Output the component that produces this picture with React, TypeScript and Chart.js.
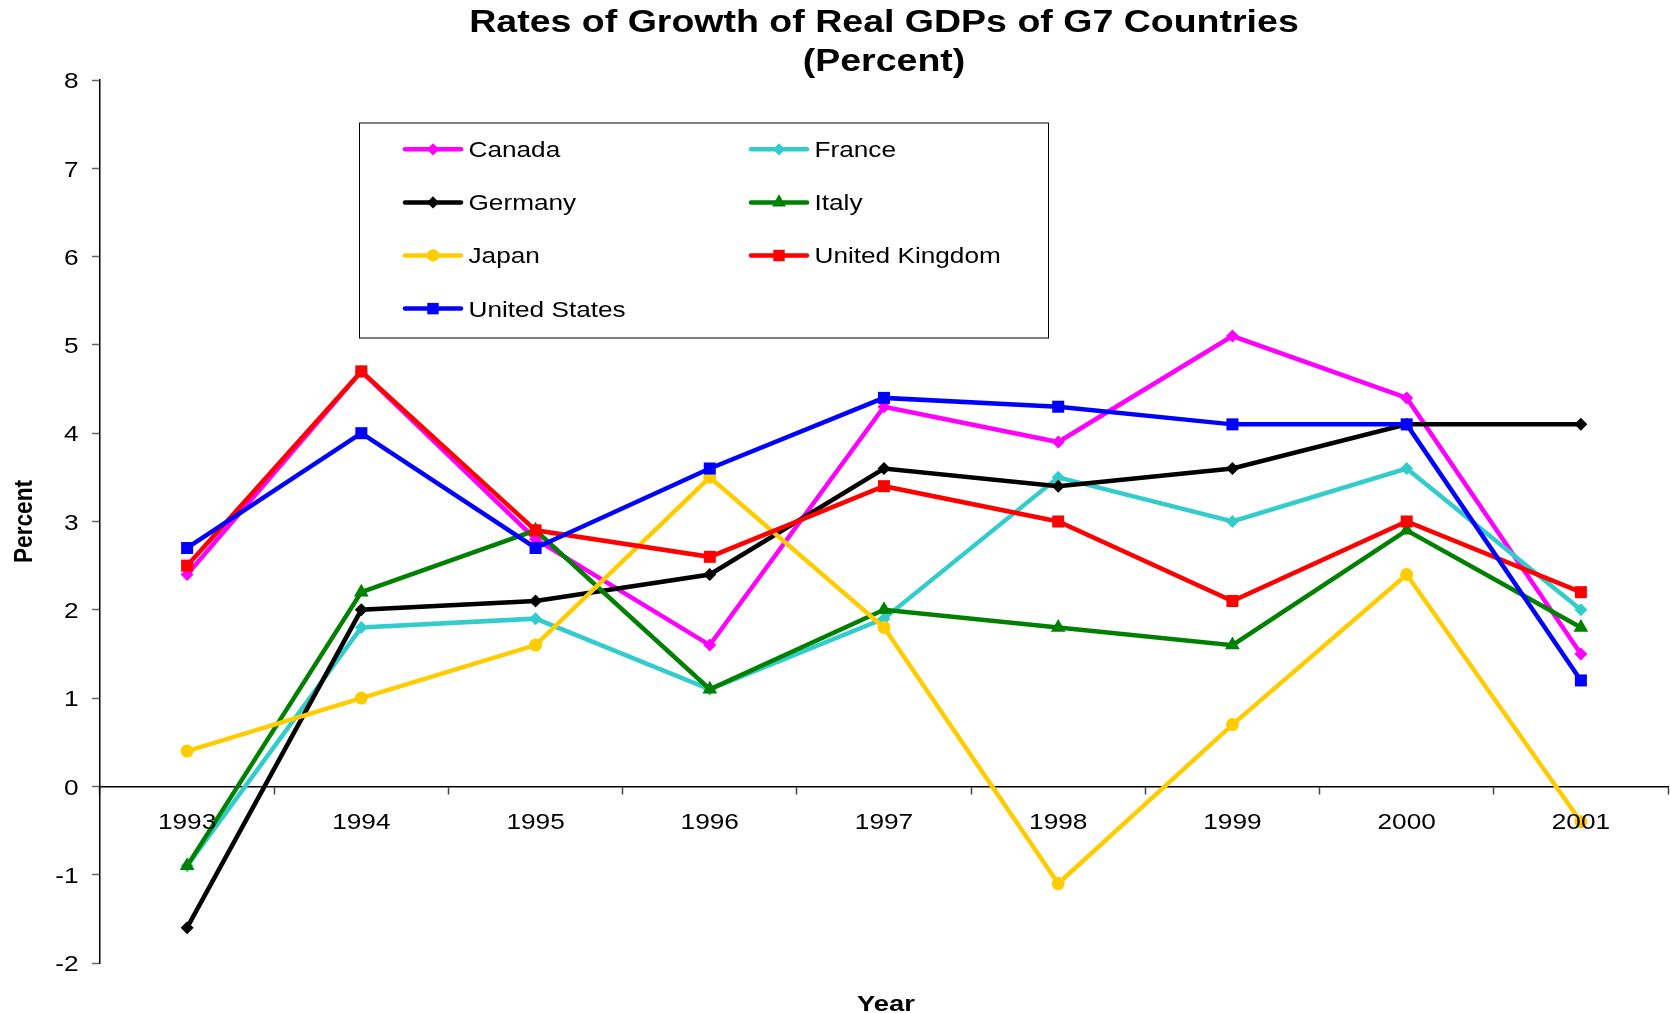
import React, { useEffect, useRef } from 'react';
import { Chart, registerables } from 'chart.js';

Chart.register(...registerables);

// ---- data ----
const years = ['1993', '1994', '1995', '1996', '1997', '1998', '1999', '2000', '2001'];
const canada = [2.4, 4.7, 2.8, 1.6, 4.3, 3.9, 5.1, 4.4, 1.5];
const france = [-0.9, 1.8, 1.9, 1.1, 1.9, 3.5, 3.0, 3.6, 2.0];
const germany = [-1.6, 2.0, 2.1, 2.4, 3.6, 3.4, 3.6, 4.1, 4.1];
const italy = [-0.9, 2.2, 2.9, 1.1, 2.0, 1.8, 1.6, 2.9, 1.8];
const japan = [0.4, 1.0, 1.6, 3.5, 1.8, -1.1, 0.7, 2.4, -0.4];
const unitedKingdom = [2.5, 4.7, 2.9, 2.6, 3.4, 3.0, 2.1, 3.0, 2.2];
const unitedStates = [2.7, 4.0, 2.7, 3.6, 4.4, 4.3, 4.1, 4.1, 1.2];
const seriesNames = ['Canada', 'France', 'Germany', 'Italy', 'Japan', 'United Kingdom', 'United States'];
const seriesValues = [canada, france, germany, italy, japan, unitedKingdom, unitedStates];
const titleLines = ['Rates of Growth of Real GDPs of G7 Countries', '(Percent)'];
const xTitle = 'Year';
const yTitle = 'Percent';
const yMin = -2;
const yMax = 8;
const yStep = 1;

// ---- styles ----
const seriesColors = ['#FF00FF', '#33CCCC', '#000000', '#008000', '#FFCC00', '#FF0000', '#0000FF'];
const seriesPoints = ['rectRot', 'rectRot', 'rectRot', 'triangle', 'circle', 'rect', 'rect'];
const seriesRadii = [6.5, 6.5, 6.5, 8.5, 6.5, 8.5, 8.5];
const FAMILY = '"Liberation Sans", Arial, Helvetica, sans-serif';

function drawMarker(ctx: CanvasRenderingContext2D, style: string, x: number, y: number, r: number, color: string) {
  ctx.save();
  ctx.fillStyle = color;
  ctx.beginPath();
  if (style === 'rectRot') {
    ctx.moveTo(x, y - r);
    ctx.lineTo(x + r, y);
    ctx.lineTo(x, y + r);
    ctx.lineTo(x - r, y);
    ctx.closePath();
  } else if (style === 'triangle') {
    ctx.moveTo(x, y - r);
    ctx.lineTo(x + r * Math.sin((2 * Math.PI) / 3), y + r * 0.5);
    ctx.lineTo(x - r * Math.sin((2 * Math.PI) / 3), y + r * 0.5);
    ctx.closePath();
  } else if (style === 'circle') {
    ctx.arc(x, y, r, 0, Math.PI * 2);
  } else {
    const s = r * Math.SQRT1_2;
    ctx.rect(x - s, y - s, 2 * s, 2 * s);
  }
  ctx.fill();
  ctx.restore();
}

function stretchText(
  ctx: CanvasRenderingContext2D,
  text: string,
  x: number,
  y: number,
  font: string,
  align: CanvasTextAlign,
  sx: number,
  rotate = false
) {
  ctx.save();
  ctx.translate(x, y);
  if (rotate) {
    ctx.rotate(-Math.PI / 2);
    ctx.scale(1, sx);
  } else {
    ctx.scale(sx, 1);
  }
  ctx.font = font;
  ctx.textAlign = align;
  ctx.textBaseline = 'alphabetic';
  ctx.fillStyle = '#000000';
  ctx.fillText(text, 0, 0);
  ctx.restore();
}

const excelTextPlugin = {
  id: 'excelText',
  afterDraw(chart: any) {
    const ctx: CanvasRenderingContext2D = chart.ctx;
    const area = chart.chartArea;
    const xs = chart.scales.x;
    const ys = chart.scales.y;
    const cx = (area.left + area.right) / 2;
    const cy = (area.top + area.bottom) / 2;

    // title
    stretchText(ctx, titleLines[0], cx, 31.7, `bold 31px ${FAMILY}`, 'center', 1.21);
    stretchText(ctx, titleLines[1], cx, 70.5, `bold 31px ${FAMILY}`, 'center', 1.21);

    // y tick labels
    const tickFont = `22.8px ${FAMILY}`;
    ys.ticks.forEach((t: any, i: number) => {
      const py = ys.getPixelForTick(i);
      stretchText(ctx, String(t.label), area.left - 21.5, py + 8.2, tickFont, 'right', 1.15);
    });

    // x tick labels (below the zero line)
    const zeroY = ys.getPixelForValue(0);
    xs.ticks.forEach((t: any, i: number) => {
      const px = xs.getPixelForTick(i);
      stretchText(ctx, String(t.label), px, zeroY + 42.3, tickFont, 'center', 1.15);
    });

    // axis titles
    stretchText(ctx, xTitle, cx + 2, 1010.7, `bold 22.8px ${FAMILY}`, 'center', 1.2);
    stretchText(ctx, yTitle, 31.7, cy, `bold 22.7px ${FAMILY}`, 'center', 1.13, true);

    // legend box
    const bx = 359;
    const by = 122.5;
    const bw = 689;
    const bh = 215;
    ctx.save();
    ctx.fillStyle = '#FFFFFF';
    ctx.fillRect(bx, by, bw, bh);
    ctx.strokeStyle = '#000000';
    ctx.lineWidth = 1;
    ctx.strokeRect(bx + 0.5, by + 0.5, bw, bh);
    ctx.restore();

    const colX = [405, 751];
    const rowY0 = 149.3;
    const rowGap = 53.1;
    chart.data.datasets.forEach((ds: any, i: number) => {
      const col = i % 2;
      const row = Math.floor(i / 2);
      const x0 = colX[col];
      const y0 = rowY0 + row * rowGap;
      ctx.save();
      ctx.strokeStyle = seriesColors[i];
      ctx.lineWidth = 4.5;
      ctx.lineCap = 'round';
      ctx.beginPath();
      ctx.moveTo(x0, y0);
      ctx.lineTo(x0 + 56, y0);
      ctx.stroke();
      ctx.restore();
      drawMarker(ctx, seriesPoints[i], x0 + 28, y0, seriesRadii[i] * 0.95, seriesColors[i]);
      stretchText(ctx, ds.label, x0 + 63.5, y0 + 7.9, `22px ${FAMILY}`, 'left', 1.19);
    });
  },
};

export default function App() {
  const ref = useRef<HTMLCanvasElement>(null);

  useEffect(() => {
    const canvas = ref.current;
    if (!canvas) return;
    const datasets = seriesNames.map((name, i) => ({
      label: name,
      data: seriesValues[i],
      borderColor: seriesColors[i],
      backgroundColor: seriesColors[i],
      pointBackgroundColor: seriesColors[i],
      pointBorderColor: seriesColors[i],
      pointBorderWidth: 0,
      pointStyle: seriesPoints[i] as any,
      pointRadius: seriesRadii[i],
      borderWidth: 4.5,
      tension: 0,
      fill: false,
      clip: false as any,
      order: seriesNames.length - 1 - i,
    }));

    const chart = new Chart(canvas, {
      type: 'line',
      data: { labels: years, datasets },
      options: {
        responsive: false,
        animation: false,
        devicePixelRatio: 1,
        layout: { autoPadding: false, padding: { top: 80, bottom: 50, left: 0, right: 2 } },
        plugins: {
          legend: { display: false },
          title: { display: false },
          tooltip: { enabled: false },
        },
        scales: {
          x: {
            type: 'category',
            position: { y: 0 } as any,
            offset: true,
            ticks: { display: false },
            grid: {
              offset: true,
              drawOnChartArea: false,
              drawTicks: true,
              tickLength: 7,
              tickColor: '#444444',
              tickWidth: 1.5,
            },
            border: { display: true, color: '#000000', width: 1.5 },
          },
          y: {
            type: 'linear',
            position: 'left',
            min: yMin,
            max: yMax,
            ticks: { stepSize: yStep, display: false },
            grid: {
              drawOnChartArea: false,
              drawTicks: true,
              tickLength: 8,
              tickColor: '#666666',
              tickWidth: 1.5,
            },
            border: { display: true, color: '#000000', width: 1.5 },
            afterFit: (s: any) => {
              s.width = 100;
            },
          },
        },
      },
      plugins: [excelTextPlugin],
    });
    return () => chart.destroy();
  }, []);

  return (
    <div style={{ position: 'absolute', left: 0, top: 0, width: 1670, height: 1013, background: '#FFFFFF' }}>
      <canvas ref={ref} width={1670} height={1013} style={{ display: 'block', width: 1670, height: 1013 }} />
    </div>
  );
}
